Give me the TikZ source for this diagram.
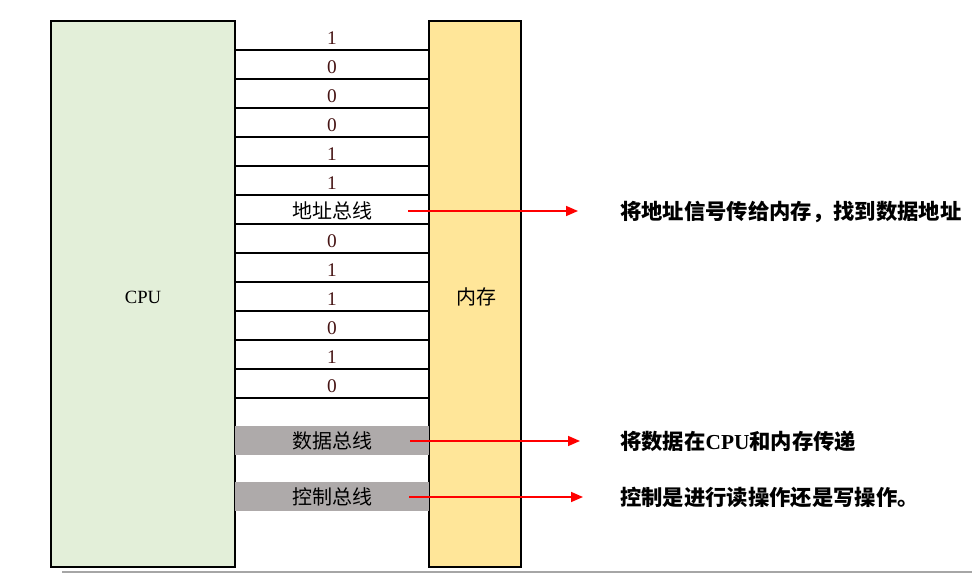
\documentclass[tikz,border=0pt]{standalone}
\usepackage{fontspec}
\setmainfont{Liberation Serif}
\newfontfamily\cjk{Noto Sans CJK SC}
\usetikzlibrary{arrows.meta}
\definecolor{cpufill}{RGB}{227,239,217}
\definecolor{memfill}{RGB}{255,230,153}
\definecolor{busgray}{RGB}{174,170,170}
\definecolor{bitink}{RGB}{70,20,20}
\definecolor{busred}{RGB}{255,0,0}

\begin{document}
\begin{tikzpicture}[x=0.75pt,y=-0.75pt,
  unit/.style={draw=black,line width=1.6pt},
  bitlabel/.style={text=bitink,font=\fontsize{14.5}{16}\selectfont,inner sep=1pt},
  buslabel/.style={font=\fontsize{15}{17}\selectfont\cjk,inner sep=1pt},
  note/.style={anchor=west,font=\fontsize{16}{18}\selectfont\cjk\bfseries,inner sep=0pt},
  busarrow/.style={busred,line width=1.2pt,-{Triangle[length=9pt,width=7.5pt]}}]
 \useasboundingbox (0,0) rectangle (972,574);
 % page edge
 \draw[gray!70,line width=0.8pt] (62,572)--(972,572);
 % units
 \filldraw[unit,fill=cpufill] (51,21) rectangle (235,567);
 \filldraw[unit,fill=memfill] (429,21) rectangle (521,567);
 \node[font=\fontsize{14}{16}\selectfont] (cpu) at (143,297) {CPU};
 \node[buslabel] (mem) at (476,297) {内存};
 % address bus lines
 \foreach \y in {50,79,...,398}
   \draw[line width=1.2pt] (235,\y)--(429,\y);
 \foreach \b [count=\i] in {1,0,0,0,1,1}
   \node[bitlabel] (bit\i) at (332,{9+29*\i}) {\b};
 \node[buslabel] (addrbus) at (332,211) {地址总线};
 \foreach \b [count=\i from 8] in {0,1,1,0,1,0}
   \node[bitlabel] (bit\i) at (332,{9+29*\i}) {\b};
 % data and control bus
 \fill[busgray] (235,426) rectangle (429,455);
 \fill[busgray] (235,482) rectangle (429,511);
 \node[buslabel] (databus) at (332,441) {数据总线};
 \node[buslabel] (ctrlbus) at (332,497) {控制总线};
 % notes
 \node[note] (addrnote) at (620,212) {将地址信号传给内存，找到数据地址};
 \node[note] (datanote) at (620,441) {将数据在{\rmfamily\bfseries CPU}和内存传递};
 \node[note] (ctrlnote) at (620,497) {控制是进行读操作还是写操作。};
 \coordinate (addrtail) at (408,211);
 \coordinate (addrtip) at (578,211);
 \coordinate (datatail) at (410,441);
 \coordinate (datatip) at (580,441);
 \coordinate (ctrltail) at (409,497);
 \coordinate (ctrltip) at (583,497);
 \draw[busarrow] (addrtail)--(addrtip);
 \draw[busarrow] (datatail)--(datatip);
 \draw[busarrow] (ctrltail)--(ctrltip);
\end{tikzpicture}
\end{document}
